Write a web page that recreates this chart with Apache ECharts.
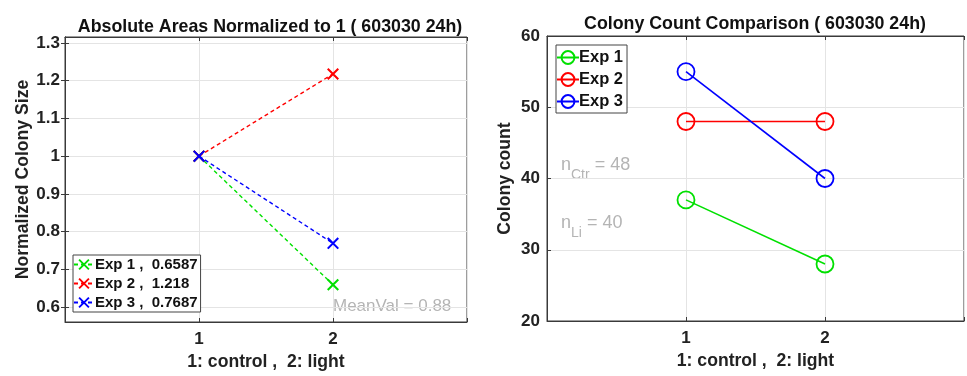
<!DOCTYPE html>
<html>
<head>
<meta charset="utf-8">
<script src="https://cdn.jsdelivr.net/npm/echarts@6/dist/echarts.min.js"></script>
<style>
  html, body { margin: 0; padding: 0; background: #fff; }
  #chart { width: 967px; height: 376px; }
</style>
</head>
<body>
<div id="chart"></div>
<script>
// 数据
const xPos = [1, 2];
const leftNames = ['Exp 1 ,  0.6587', 'Exp 2 ,  1.218', 'Exp 3 ,  0.7687'];
const exp1Norm = [1, 0.6587];
const exp2Norm = [1, 1.218];
const exp3Norm = [1, 0.7687];
const leftTicks = [0.6, 0.7, 0.8, 0.9, 1, 1.1, 1.2, 1.3];

const rightNames = ['Exp 1', 'Exp 2', 'Exp 3'];
const exp1Count = [37, 28];
const exp2Count = [48, 48];
const exp3Count = [55, 40];

const colors = ['#00e000', '#ff0000', '#0000ff'];
const font = 'Liberation Sans, Arial, sans-serif';
const crossPath = 'path://M0,1.2L1.2,0L10,8.8L8.8,10Z M8.8,0L10,1.2L1.2,10L0,8.8Z';

const chart = echarts.init(document.getElementById('chart'));

const axisLineStyle = { color: '#3a3a3a', width: 1 };
const gridLine = { show: true, lineStyle: { color: '#e4e4e4', width: 1 } };
const labelStyle = { color: '#222', fontSize: 17, fontWeight: 'bold', fontFamily: font };
const nameStyle = { color: '#222', fontSize: 17.6, fontWeight: 'bold', fontFamily: font };

function xAxisFor(gridIndex) {
  return [{
    gridIndex, type: 'value', min: 0, max: 3, interval: 1,
    axisLine: { lineStyle: axisLineStyle },
    axisTick: { inside: true, length: 4, lineStyle: axisLineStyle },
    axisLabel: Object.assign({ margin: 9, formatter: v => (v === 1 || v === 2) ? String(v) : '' }, labelStyle),
    splitLine: gridLine,
    name: '1: control ,  2: light', nameLocation: 'middle', nameGap: 31,
    nameTextStyle: nameStyle
  }, {
    gridIndex, type: 'value', min: 0, max: 3, interval: 1, position: 'top',
    axisLine: { lineStyle: axisLineStyle },
    axisTick: { inside: true, length: 4, lineStyle: axisLineStyle },
    axisLabel: { show: false }, splitLine: { show: false }
  }];
}

const option = {
  animation: false,
  title: [
    { text: 'Absolute Areas Normalized to 1 ( 603030 24h)', left: 265, top: 13, textAlign: 'center',
      textStyle: { fontSize: 17.8, fontWeight: 'bold', color: '#111', fontFamily: font } },
    { text: 'Colony Count Comparison ( 603030 24h)', left: 750, top: 10, textAlign: 'center',
      textStyle: { fontSize: 17.8, fontWeight: 'bold', color: '#111', fontFamily: font } }
  ],
  grid: [
    { left: 65, top: 37, width: 402, height: 285, show: true, borderColor: '#3a3a3a', borderWidth: 1 },
    { left: 547, top: 36, width: 423, height: 285, show: true, borderColor: '#3a3a3a', borderWidth: 1 }
  ],
  legend: [
    {
      orient: 'vertical', left: 73, top: 255, padding: [2, 3, 2, 0],
      backgroundColor: '#fff', borderColor: '#444', borderWidth: 1,
      itemGap: 4, itemWidth: 20, itemHeight: 14, data: leftNames,
      textStyle: { color: '#111', fontSize: 15, fontWeight: 'bold', fontFamily: font, padding: [0, 0, 0, -4] }
    },
    {
      orient: 'vertical', left: 556, top: 45, padding: [4, 4, 3, 0],
      backgroundColor: '#fff', borderColor: '#444', borderWidth: 1,
      itemGap: 5, itemWidth: 22, itemHeight: 16, data: rightNames,
      textStyle: { color: '#111', fontSize: 16.5, fontWeight: 'bold', fontFamily: font, padding: [0, 0, 0, -5] }
    }
  ],
  xAxis: xAxisFor(0).concat(xAxisFor(1)),
  yAxis: [
    {
      gridIndex: 0, type: 'value', min: 0.56, max: 1.316,
      axisLine: { lineStyle: axisLineStyle },
      axisTick: { inside: true, length: 4, lineStyle: axisLineStyle, customValues: leftTicks },
      axisLabel: Object.assign({ margin: 5, customValues: leftTicks, formatter: v => String(+v.toFixed(1)) }, labelStyle),
      splitLine: gridLine,
      name: 'Normalized Colony Size', nameLocation: 'middle', nameGap: 33,
      nameTextStyle: nameStyle
    },
    {
      gridIndex: 0, type: 'value', min: 0.56, max: 1.316, position: 'right',
      axisLine: { lineStyle: axisLineStyle },
      axisTick: { inside: true, length: 4, lineStyle: axisLineStyle, customValues: leftTicks },
      axisLabel: { show: false }, splitLine: { show: false }
    },
    {
      gridIndex: 1, type: 'value', min: 20, max: 60, interval: 10,
      axisLine: { lineStyle: axisLineStyle },
      axisTick: { inside: true, length: 4, lineStyle: axisLineStyle },
      axisLabel: Object.assign({ margin: 7 }, labelStyle),
      splitLine: gridLine,
      name: 'Colony count', nameLocation: 'middle', nameGap: 33,
      nameTextStyle: nameStyle
    }
  ],
  series: [
    ...[exp1Norm, exp2Norm, exp3Norm].map((vals, i) => ({
      name: leftNames[i], type: 'line', xAxisIndex: 0, yAxisIndex: 0,
      data: xPos.map((x, j) => [x, vals[j]]),
      symbol: crossPath, symbolSize: 12, showSymbol: true,
      itemStyle: { color: colors[i] },
      lineStyle: { color: colors[i], width: 1.4, type: [4, 3] },
      z: 3 + i
    })),
    ...[exp1Count, exp2Count, exp3Count].map((vals, i) => ({
      name: rightNames[i], type: 'line', xAxisIndex: 2, yAxisIndex: 2,
      data: xPos.map((x, j) => [x, vals[j]]),
      symbol: 'circle', symbolSize: 17,
      itemStyle: { color: 'rgba(0,0,0,0)', borderColor: colors[i], borderWidth: 1.8 },
      lineStyle: { color: colors[i], width: 1.6 }
    }))
  ],
  graphic: [
    { type: 'text', left: 333, top: 298,
      style: { text: 'MeanVal = 0.88', fill: '#b4b4b4', font: '17px ' + font } },
    { type: 'text', left: 561, top: 156,
      style: { text: '{n|n}{s|Ctr}{n| = 48}', fill: '#b4b4b4', font: '18px ' + font,
        rich: { n: { fontSize: 18, fill: '#b4b4b4', verticalAlign: 'top' }, s: { fontSize: 14, fill: '#b4b4b4', padding: [12, 0, 0, 0] } } } },
    { type: 'text', left: 561, top: 214,
      style: { text: '{n|n}{s|Li}{n| = 40}', fill: '#b4b4b4', font: '18px ' + font,
        rich: { n: { fontSize: 18, fill: '#b4b4b4', verticalAlign: 'top' }, s: { fontSize: 14, fill: '#b4b4b4', padding: [12, 0, 0, 0] } } } }
  ]
};

chart.setOption(option);
</script>
</body>
</html>
